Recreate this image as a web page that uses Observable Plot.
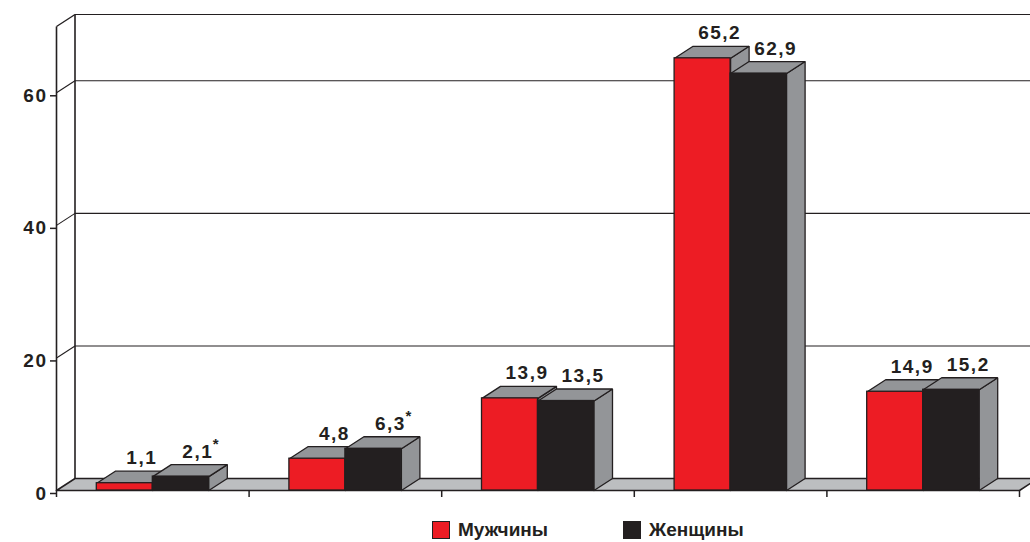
<!DOCTYPE html>
<html><head><meta charset="utf-8">
<script src="https://cdn.jsdelivr.net/npm/d3@7"></script>
<script src="https://cdn.jsdelivr.net/npm/@observablehq/plot@0.6"></script>
<style>
body{margin:0;background:#fff;font-family:"Liberation Sans",Arial,sans-serif;}
#wrap{position:relative;width:1030px;height:542px;overflow:hidden;background:#fff;}
#chart{position:absolute;left:0;top:0;}
#chart svg text{letter-spacing:1.5px;}
#legend{position:absolute;left:432px;top:521px;display:flex;gap:75px;align-items:center;}
.item{display:flex;align-items:center;gap:8px;font-size:19px;font-weight:bold;color:#231F20;line-height:18px;}
.sw{width:16px;height:16px;border:1px solid #231F20;}
</style></head><body>
<div id="wrap"><div id="chart"></div><div id="legend"></div></div>
<script>
// ---- data ----
const categories = ["A", "B", "C", "D", "E"]; // category names are not printed in the chart
const seriesNames = ["Мужчины", "Женщины"];
const menValues = [1.1, 4.8, 13.9, 65.2, 14.9];
const womenValues = [2.1, 6.3, 13.5, 62.9, 15.2];
const menNotes = ["", "", "", "", ""];
const womenNotes = ["*", "*", "", "", ""];
const seriesColors = ["#ED1C24", "#231F20"];
const yTicks = [0, 20, 40, 60];
const yMax = 70;

// ---- layout ----
const W = 1030, H = 510, ML = 56, MR = 11, MT = 26, MB = 20;
const n = categories.length;
const pxX = (W - ML - MR) / n, pxY = (H - MT - MB) / yMax;
const DX = 18.5 / pxX, DY = 12 / pxY;   // depth offset in data units
const BW = 56 / pxX;                     // bar width in data units
const INK = "#231F20", GRAY = "#939598", FLOOR = "#BCBEC0";

const values = [menValues, womenValues];
const notes = [menNotes, womenNotes];

const fronts = [], tops = [], sides = [], labels = [], stars = [];
categories.forEach((c, i) => {
  seriesNames.forEach((s, k) => {
    const v = values[k][i];
    const x1 = i + 0.5 + (k - 1) * BW, x2 = x1 + BW;
    const id = c + k;
    fronts.push({x1, x2, v, series: s});
    [[x1, v], [x2, v], [x2 + DX, v + DY], [x1 + DX, v + DY], [x1, v]]
      .forEach(([x, y]) => tops.push({id, x, y}));
    [[x2, 0], [x2 + DX, DY], [x2 + DX, v + DY], [x2, v], [x2, 0]]
      .forEach(([x, y]) => sides.push({id, x, y}));
    const lx = (x1 + x2) / 2 + DX * 0.92;
    labels.push({x: lx, y: v + DY, text: String(v).replace(".", ",")});
    if (notes[k][i]) stars.push({x: lx, y: v + DY, text: notes[k][i]});
  });
});

const floor = [[0, 0], [n, 0], [n + DX, DY], [DX, DY], [0, 0]].map(([x, y]) => ({id: "f", x, y}));
const wallLines = [
  {x1: 0, y1: 0, x2: 0, y2: yMax, w: 1.6},
  {x1: DX, y1: DY, x2: DX, y2: yMax + DY, w: 1.6},
  {x1: 0, y1: yMax, x2: DX, y2: yMax + DY, w: 1.4},
  {x1: DX, y1: yMax + DY, x2: n + DX, y2: yMax + DY, w: 1.1}
];
yTicks.filter(t => t > 0).forEach(t => {
  wallLines.push({x1: DX, y1: t + DY, x2: n + DX, y2: t + DY, w: 1.1});
  wallLines.push({x1: 0, y1: t, x2: DX, y2: t + DY, w: 1.1});
});

const chart = Plot.plot({
  width: W, height: H,
  marginLeft: ML, marginRight: MR, marginTop: MT, marginBottom: MB,
  style: {fontFamily: "'Liberation Sans', Arial, sans-serif", color: INK, background: "white", overflow: "visible"},
  x: {domain: [0, n], label: null},
  y: {domain: [0, yMax], label: null},
  color: {domain: seriesNames, range: seriesColors},
  marks: [
    Plot.link(wallLines, {x1: "x1", y1: "y1", x2: "x2", y2: "y2", stroke: INK, strokeWidth: "w"}),
    Plot.line(floor, {x: "x", y: "y", z: "id", fill: FLOOR, stroke: INK, strokeWidth: 1.5, curve: "linear"}),
    Plot.line(sides, {x: "x", y: "y", z: "id", fill: GRAY, stroke: INK, strokeWidth: 1.3, curve: "linear", strokeLinejoin: "miter"}),
    Plot.line(tops, {x: "x", y: "y", z: "id", fill: GRAY, stroke: INK, strokeWidth: 1.3, curve: "linear", strokeLinejoin: "miter"}),
    Plot.rect(fronts, {x1: "x1", x2: "x2", y1: 0, y2: "v", fill: "series", stroke: INK, strokeWidth: 1.3}),
    Plot.axisY({ticks: yTicks, tickSize: 6, tickPadding: 3, fontSize: 19, fontWeight: "bold", dy: 3, label: null, stroke: INK, strokeWidth: 1.5}),
    Plot.axisX({ticks: d3.range(n + 1), tickSize: 7, tickFormat: () => "", label: null, stroke: INK, strokeWidth: 1.5}),
    Plot.text(labels, {x: "x", y: "y", text: "text", dy: -7, lineAnchor: "bottom", fontSize: 19, fontWeight: "bold", fill: INK}),
    Plot.text(stars, {x: "x", y: "y", text: "text", dx: 15, dy: -16, textAnchor: "start", lineAnchor: "bottom", fontSize: 15, fontWeight: "bold", fill: INK})
  ]
});
document.getElementById("chart").appendChild(chart);

const legend = d3.select("#legend");
seriesNames.forEach((s, k) => {
  const it = legend.append("div").attr("class", "item");
  it.append("div").attr("class", "sw").style("background", seriesColors[k]);
  it.append("span").text(s);
});
</script></body></html>
